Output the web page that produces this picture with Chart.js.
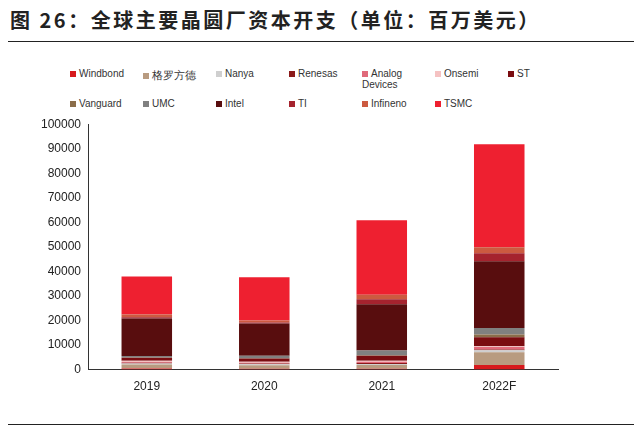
<!DOCTYPE html><html><head><meta charset="utf-8">
<script src="https://cdn.jsdelivr.net/npm/chart.js@4"></script>
<style>
body{margin:0;width:640px;height:430px;background:#fff;font-family:"Noto Sans CJK SC","Noto Sans",sans-serif;position:relative;overflow:hidden}
#title{position:absolute;left:10px;top:5px;font-size:20px;font-weight:bold;color:#222;letter-spacing:2.5px}
#l1{position:absolute;left:8px;top:41px;width:626px;border-top:1.5px solid #222}
#l2{position:absolute;left:8px;top:424px;width:626px;border-top:1.5px solid #222}
#legend{position:absolute;left:70px;top:68px;width:540px;display:grid;grid-template-columns:repeat(7,73px);row-gap:8px;font-family:"Liberation Sans",sans-serif;font-size:10px;color:#333}
#legend span.b{display:inline-block;width:6px;height:6px;margin-right:3px;vertical-align:middle}
#wrap{position:absolute;left:38px;top:114px;width:590px;height:290px}
</style></head><body>
<div id="title">图 26：全球主要晶圆厂资本开支（单位：百万美元）</div>
<div id="l1"></div><div id="l2"></div>
<div id="legend"></div>
<div id="wrap"><canvas id="c"></canvas></div>
<script>
const categories=["2019","2020","2021","2022F"];
const seriesNames=["Windbond","格罗方德","Nanya","Renesas","Analog Devices","Onsemi","ST","Vanguard","UMC","Intel","TI","Infineno","TSMC"];
const colors=["#d7191c","#b89b80","#cfcfcf","#8b1a1a","#e06a7a","#f5c2c2","#7a0c10","#8b6d4a","#808080","#580d0e","#a5232e","#cc5a40","#ee2030"];
const Windbond=[400,300,300,1900];
const GF=[1700,1500,1600,5200];
const Nanya=[400,400,400,800];
const Renesas=[300,300,400,300];
const ADI=[300,300,500,1000];
const Onsemi=[500,400,400,300];
const ST=[1200,1300,2000,3700];
const Vanguard=[100,100,200,1100];
const UMC=[600,1000,2000,2700];
const Intel=[15300,13200,18800,27200];
const TI=[500,400,2100,3200];
const Infineon=[1200,800,1800,2500];
const TSMC=[15400,17600,30400,41900];
const yTicks=[0,10000,20000,30000,40000,50000,60000,70000,80000,90000,100000];
const values=[Windbond,GF,Nanya,Renesas,ADI,Onsemi,ST,Vanguard,UMC,Intel,TI,Infineon,TSMC];
const lg=document.getElementById('legend');
seriesNames.forEach((n,i)=>{const d=document.createElement('div');d.innerHTML='<span class="b" style="background:'+colors[i]+'"></span>'+n;if(n==="格罗方德")d.style.fontSize="11px";lg.appendChild(d);});
new Chart(document.getElementById('c'),{type:'bar',
data:{labels:categories,datasets:values.map((v,i)=>({label:seriesNames[i],data:v,backgroundColor:colors[i],barPercentage:0.43,categoryPercentage:1}))},
options:{responsive:true,maintainAspectRatio:false,animation:false,
plugins:{legend:{display:false},tooltip:{enabled:false}},
layout:{padding:{top:4,right:70}},
scales:{x:{stacked:true,grid:{display:false,drawTicks:false},border:{color:'#333'},ticks:{color:'#222',font:{size:12,family:'Liberation Sans'},padding:10}},
y:{stacked:true,min:0,max:100000,afterBuildTicks:a=>{a.ticks=yTicks.map(v=>({value:v}))},grid:{display:false,drawOnChartArea:false,drawTicks:true,tickLength:4,color:'#333'},border:{color:'#333'},ticks:{color:'#222',font:{size:12,family:'Liberation Sans'},callback:v=>String(v)}}}}});
</script></body></html>
